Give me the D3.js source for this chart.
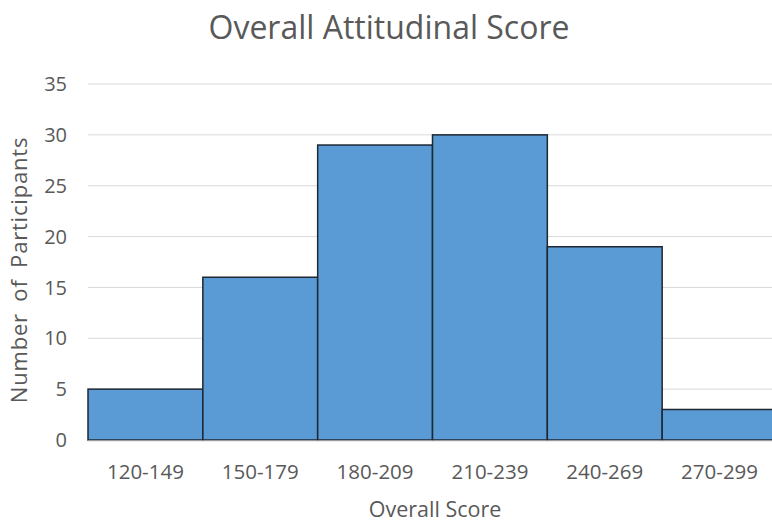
<!DOCTYPE html>
<html>
<head>
<meta charset="utf-8">
<script src="https://cdn.jsdelivr.net/npm/d3@7"></script>
<style>
  body { margin: 0; background: #fff; }
  text { font-family: "Open Sans", sans-serif; fill: #595959; }
</style>
</head>
<body>
<svg id="chart" width="772" height="525"></svg>
<script>
var categories = ['120-149', '150-179', '180-209', '210-239', '240-269', '270-299'],
    counts = [5, 16, 29, 30, 19, 3],
    yTicks = [0, 5, 10, 15, 20, 25, 30, 35];

var svg = d3.select('#chart'),
    margin = {top: 84, right: -5, bottom: 85, left: 88},
    width = 772 - margin.left - margin.right,
    height = 525 - margin.top - margin.bottom;

var x = d3.scaleBand().domain(categories).range([0, width]).padding(0),
    y = d3.scaleLinear().domain([0, 35]).range([height, 0]);

var g = svg.append('g').attr('transform', 'translate(' + margin.left + ',' + margin.top + ')');

// gridlines
g.append('g')
    .selectAll('line')
    .data(yTicks.slice(1))
    .enter().append('line')
    .attr('x1', 0).attr('x2', width)
    .attr('y1', function(d) { return y(d); })
    .attr('y2', function(d) { return y(d); })
    .attr('stroke', '#d9d9d9')
    .attr('stroke-width', 1);

// y tick labels
g.append('g')
    .selectAll('text')
    .data(yTicks)
    .enter().append('text')
    .attr('x', -21)
    .attr('y', function(d) { return y(d); })
    .attr('dy', '0.36em')
    .attr('text-anchor', 'end')
    .style('font-size', '20px')
    .text(function(d) { return d; });

// bars
g.append('g')
    .selectAll('rect')
    .data(counts)
    .enter().append('rect')
    .attr('x', function(d, i) { return x(categories[i]); })
    .attr('y', function(d) { return y(d); })
    .attr('width', x.bandwidth())
    .attr('height', function(d) { return height - y(d); })
    .attr('fill', '#5b9bd5')
    .attr('stroke', '#1e2732')
    .attr('stroke-width', 1.5);

// baseline
g.append('line')
    .attr('x1', 0).attr('x2', width)
    .attr('y1', height + 1).attr('y2', height + 1)
    .attr('stroke', '#d9d9d9')
    .attr('stroke-width', 1);

// x axis labels
var xAxis = g.append('g')
    .attr('transform', 'translate(0,' + height + ')')
    .call(d3.axisBottom(x).tickSize(0).tickPadding(24));
xAxis.select('.domain').remove();
xAxis.selectAll('text')
    .style('font-family', '"Open Sans", sans-serif')
    .style('font-size', '20.5px')
    .attr('fill', '#595959');

// titles
svg.append('text')
    .attr('x', 389)
    .attr('y', 39)
    .attr('text-anchor', 'middle')
    .style('font-size', '32px')
    .text('Overall Attitudinal Score');

svg.append('text')
    .attr('x', 435)
    .attr('y', 517)
    .attr('text-anchor', 'middle')
    .style('font-size', '21.5px')
    .text('Overall Score');

svg.append('text')
    .attr('transform', 'translate(27,270) rotate(-90)')
    .attr('text-anchor', 'middle')
    .style('font-size', '22px')
    .style('letter-spacing', '0.8px')
    .style('word-spacing', '5px')
    .text('Number of Participants');
</script>
</body>
</html>
